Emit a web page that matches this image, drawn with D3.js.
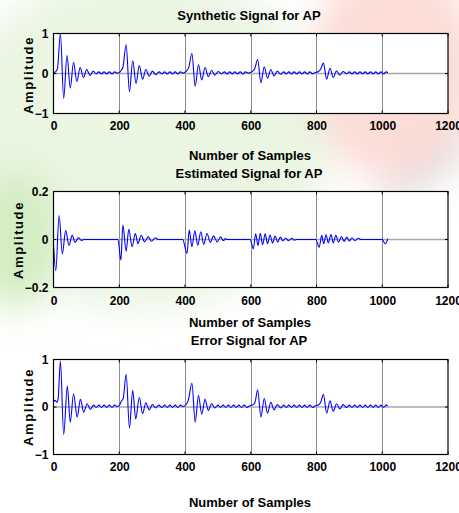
<!DOCTYPE html>
<html><head><meta charset="utf-8">
<script src="https://cdn.jsdelivr.net/npm/d3@7"></script>
<style>
html,body{margin:0;padding:0;background:#fff;}
svg{display:block;}
.tick text{font-family:"Liberation Sans",Arial,sans-serif;font-weight:bold;font-size:12px;fill:#000;}
.domain{display:none;}
</style></head>
<body><svg id="chart" width="459" height="513"></svg>
<script>
// ---- data ----
const xTicks = [0, 200, 400, 600, 800, 1000, 1200];
const ampTicks = [-1, 0, 1];
const estTicks = [-0.2, 0, 0.2];
const titles = ["Synthetic Signal for AP", "Estimated Signal for AP", "Error Signal for AP"];
const xLabel = "Number of Samples";
const yLabel = "Amplitude";

// [sample, amplitude] turning points of each trace
const synthetic = [
 [0,0.02],[6,0.04],[12,0.12],[21,1.0],[31,-0.62],[41,0.45],[51,-0.36],[61,0.28],[71,-0.2],[81,0.15],[91,-0.1],[101,0.1],[111,-0.05],[121,0.06],
 [130,-0.01],[138,0.04],[146,-0.01],[154,0.04],[162,-0.01],[170,0.04],[178,-0.01],[186,0.04],[194,0.01],
 [200,0.02],[206,0.08],[211,0.15],[221,0.72],[231,-0.45],[241,0.32],[251,-0.25],[261,0.2],[271,-0.14],[281,0.1],[291,-0.07],[301,0.06],[311,-0.03],[321,0.04],
 [330,-0.01],[338,0.04],[346,-0.01],[354,0.04],[362,-0.01],[370,0.04],[378,-0.01],[386,0.04],[394,0.01],
 [400,0.03],[406,0.08],[411,0.14],[421,0.5],[431,-0.32],[441,0.22],[451,-0.16],[461,0.15],[471,-0.08],[481,0.08],[491,-0.04],[501,0.05],[511,-0.01],[520,0.04],
 [528,-0.01],[536,0.04],[544,-0.01],[552,0.04],[560,-0.01],[568,0.04],[576,-0.01],[584,0.04],[594,0.01],
 [600,0.03],[606,0.06],[612,0.12],[621,0.35],[631,-0.23],[641,0.17],[651,-0.12],[661,0.1],[671,-0.06],[681,0.06],[691,-0.02],[700,0.04],
 [708,-0.01],[716,0.04],[724,-0.01],[732,0.04],[740,-0.01],[748,0.04],[756,-0.01],[764,0.04],[772,-0.01],[780,0.04],[788,-0.01],[795,0.02],
 [800,0.03],[806,0.05],[812,0.1],[821,0.26],[831,-0.14],[841,0.13],[851,-0.1],[861,0.07],[871,-0.04],[881,0.05],[891,-0.01],[900,0.04],
 [908,-0.01],[916,0.04],[924,-0.01],[932,0.04],[940,-0.01],[948,0.04],[956,-0.01],[964,0.04],[972,-0.01],[980,0.04],[988,-0.01],[996,0.04],[1004,-0.01],[1012,0.04],[1017,0.02]
];

const estimated = [
 [0,-0.02],[7,-0.13],[17,0.1],[27,-0.06],[37,0.038],[47,-0.025],[57,0.017],[66,-0.012],[76,0.008],[85,-0.004],[92,0],
 [196,0],[205,-0.086],[211,0.06],[221,-0.049],[229,0.043],[239,-0.03],[249,0.025],[257,-0.017],[267,0.018],[277,-0.01],[288,0.011],[298,-0.007],[310,0.007],[318,0],
 [393,0],[406,-0.058],[413,0.039],[421,-0.03],[430,0.036],[439,-0.024],[448,0.032],[457,-0.02],[467,0.025],[477,-0.012],[487,0.015],[498,-0.01],[508,0.011],[517,-0.005],[523,0.004],[528,0],
 [598,0],[608,-0.039],[615,0.024],[622,-0.025],[629,0.026],[636,-0.022],[644,0.024],[651,-0.018],[659,0.019],[666,-0.015],[674,0.014],[682,-0.011],[690,0.01],[698,-0.006],[706,0.006],[715,-0.005],[725,0.005],[733,-0.003],[740,0],
 [798,0],[808,-0.032],[816,0.017],[822,-0.018],[829,0.02],[836,-0.014],[844,0.021],[851,-0.014],[859,0.017],[867,-0.011],[876,0.012],[884,-0.008],[892,0.01],[900,-0.006],[908,0.007],[917,-0.005],[927,0.005],[937,0],
 [1000,0],[1009,-0.018],[1017,0.003]
];

const error = [
 [0,0.12],[5,0.14],[10,0.1],[14,0.17],[21,0.97],[31,-0.58],[42,0.44],[51,-0.32],[61,0.28],[72,-0.21],[82,0.16],[92,-0.11],[102,0.07],[112,-0.05],[122,0.04],
 [130,-0.01],[138,0.04],[146,-0.01],[154,0.04],[162,-0.01],[170,0.04],[178,-0.01],[186,0.04],[194,0.01],
 [200,0.03],[206,0.12],[212,0.18],[221,0.69],[231,-0.44],[241,0.35],[250,-0.25],[261,0.2],[271,-0.14],[281,0.09],[291,-0.06],[301,0.05],[311,-0.02],[320,0.04],
 [330,-0.01],[338,0.04],[346,-0.01],[354,0.04],[362,-0.01],[370,0.04],[378,-0.01],[386,0.04],[394,0.01],
 [400,0.03],[405,0.07],[410,0.14],[421,0.5],[431,-0.32],[441,0.24],[451,-0.15],[461,0.16],[471,-0.07],[481,0.07],[491,-0.02],[500,0.04],
 [508,-0.01],[516,0.04],[524,-0.01],[532,0.04],[540,-0.01],[548,0.04],[556,-0.01],[564,0.04],[572,-0.01],[580,0.04],[588,-0.01],[595,0.02],
 [600,0.03],[607,0.05],[613,0.1],[621,0.36],[631,-0.21],[641,0.18],[651,-0.13],[661,0.1],[671,-0.06],[681,0.05],[691,-0.02],[700,0.04],
 [708,-0.01],[716,0.04],[724,-0.01],[732,0.04],[740,-0.01],[748,0.04],[756,-0.01],[764,0.04],[772,-0.01],[780,0.04],[788,-0.01],[795,0.02],
 [800,0.03],[807,0.05],[813,0.1],[821,0.27],[831,-0.13],[841,0.13],[851,-0.09],[861,0.07],[871,-0.04],[881,0.05],[891,-0.01],[900,0.04],
 [908,-0.01],[916,0.04],[924,-0.01],[932,0.04],[940,-0.01],[948,0.04],[956,-0.01],[964,0.04],[972,-0.01],[980,0.04],[988,-0.01],[996,0.04],[1004,-0.01],[1012,0.04],[1017,0.02]
];

// ---- drawing ----
const svg = d3.select("#chart");

// faint background watermark
const defs = svg.append("defs");
defs.append("filter").attr("id","blur").attr("x","-50%").attr("y","-50%").attr("width","200%").attr("height","200%")
  .append("feGaussianBlur").attr("stdDeviation", 18);
const wm = svg.append("g").attr("filter","url(#blur)");
wm.append("ellipse").attr("cx",140).attr("cy",140).attr("rx",190).attr("ry",170).attr("fill","#eaf5e2");
wm.append("ellipse").attr("cx",15).attr("cy",240).attr("rx",45).attr("ry",70).attr("fill","#d3edc2");
wm.append("ellipse").attr("cx",395).attr("cy",70).attr("rx",85).attr("ry",110).attr("fill","#fbdcd6");
wm.append("line").attr("x1",470).attr("y1",145).attr("x2",380).attr("y2",205).attr("stroke","#d6d6d6").attr("stroke-width",16);

const left = 53.5, right = 448;
const panels = [
  {data: synthetic, top: 33.5, bottom: 113.5, domain: [-1, 1], ticks: ampTicks, fmt: d3.format("d"),
   titleY: 20, tickY: 130, xlabY: 160, ylabX: 29, ylabY: 75},
  {data: estimated, top: 191.5, bottom: 287.5, domain: [-0.2, 0.2], ticks: estTicks, fmt: d => d === 0 ? "0" : d3.format(".1f")(d),
   titleY: 178, tickY: 305, xlabY: 327, ylabX: 19, ylabY: 240},
  {data: error, top: 359.5, bottom: 454.5, domain: [-1, 1], ticks: ampTicks, fmt: d3.format("d"),
   titleY: 345, tickY: 471, xlabY: 507, ylabX: 29, ylabY: 407}
];

const x = d3.scaleLinear().domain([0, 1200]).range([left, right]);

panels.forEach((p, i) => {
  const y = d3.scaleLinear().domain(p.domain).range([p.bottom, p.top]);
  const g = svg.append("g");
  g.append("rect").attr("x", left).attr("y", p.top).attr("width", right - left).attr("height", p.bottom - p.top).attr("fill", "#fff");
  // grid
  g.selectAll(".vg").data(xTicks.slice(1, -1)).enter().append("line")
    .attr("x1", d => Math.round(x(d)) + 0.5).attr("x2", d => Math.round(x(d)) + 0.5)
    .attr("y1", p.top).attr("y2", p.bottom).attr("stroke", "#8c8c8c").attr("stroke-width", 1);
  g.selectAll(".hg").data(p.ticks.slice(1, -1)).enter().append("line")
    .attr("x1", left).attr("x2", right).attr("y1", d => y(d)).attr("y2", d => y(d))
    .attr("stroke", "#a8a8a8").attr("stroke-width", 1.3);
  // inner tick marks
  xTicks.forEach(t => {
    g.append("line").attr("x1", x(t)).attr("x2", x(t)).attr("y1", p.top).attr("y2", p.top + 3).attr("stroke", "#000");
    g.append("line").attr("x1", x(t)).attr("x2", x(t)).attr("y1", p.bottom).attr("y2", p.bottom - 3).attr("stroke", "#000");
  });
  p.ticks.forEach(t => {
    g.append("line").attr("x1", left).attr("x2", left + 3).attr("y1", y(t)).attr("y2", y(t)).attr("stroke", "#000");
    g.append("line").attr("x1", right).attr("x2", right - 3).attr("y1", y(t)).attr("y2", y(t)).attr("stroke", "#000");
  });
  // trace
  const line = d3.line().x(d => x(d[0])).y(d => y(d[1])).curve(d3.curveMonotoneX);
  g.append("path").datum(p.data).attr("d", line).attr("fill", "none").attr("stroke", "#0000ff").attr("stroke-width", 1.1);
  // box
  g.append("rect").attr("x", left).attr("y", p.top).attr("width", right - left).attr("height", p.bottom - p.top)
    .attr("fill", "none").attr("stroke", "#000").attr("stroke-width", 1.2);
  // axes labels
  svg.append("g").attr("transform", `translate(0,${p.bottom})`)
    .call(d3.axisBottom(x).tickValues(xTicks).tickFormat(d3.format("d")).tickSize(0).tickPadding(p.tickY - p.bottom - 9));
  svg.append("g").attr("transform", `translate(${left},0)`)
    .call(d3.axisLeft(y).tickValues(p.ticks).tickFormat(p.fmt).tickSize(0).tickPadding(5));
  // title
  svg.append("text").attr("x", 249).attr("y", p.titleY).attr("text-anchor", "middle")
    .style("font-family", "'Liberation Sans Narrow','Arial Narrow',sans-serif").style("font-weight", "bold").style("font-size", "13px")
    .text(titles[i]);
  svg.append("text").attr("x", 250).attr("y", p.xlabY).attr("text-anchor", "middle")
    .style("font-family", "'Liberation Sans Narrow','Arial Narrow',sans-serif").style("font-weight", "bold").style("font-size", "13px")
    .text(xLabel);
  svg.append("text").attr("transform", `translate(${p.ylabX + 4},${p.ylabY}) rotate(-90)`).attr("text-anchor", "middle")
    .style("font-family", "'Liberation Sans',Arial,sans-serif").style("font-weight", "bold").style("font-size", "13px")
    .style("letter-spacing", "1.6px")
    .text(yLabel);
});
</script></body></html>
